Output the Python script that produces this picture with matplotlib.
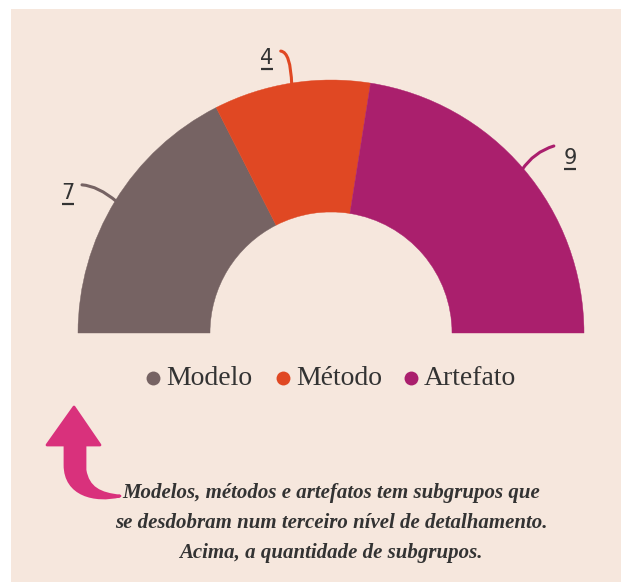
import matplotlib.pyplot as plt
import numpy as np
from matplotlib.patches import Wedge, Rectangle, PathPatch
from matplotlib.path import Path

W = 621
H = 582

categories = ["Modelo", "Método", "Artefato"]
values = [7, 4, 9]
colors = ["#766363", "#e04823", "#aa1f6d"]

note_lines = [
    "Modelos, métodos e artefatos tem subgrupos que",
    "se desdobram num terceiro nível de detalhamento.",
    "Acima, a quantidade de subgrupos.",
]

bg = "#f6e7dd"
ink = "#333333"
arrow_color = "#d9317c"


def py(y):
    # pixel row (top-down) -> axes y (bottom-up)
    return H - y


fig = plt.figure(figsize=(W / 100, H / 100), dpi=100)
fig.patch.set_facecolor("white")
ax = fig.add_axes([0, 0, 1, 1])
ax.set_xlim(0, W)
ax.set_ylim(0, H)
ax.axis("off")

# peach panel
ax.add_patch(Rectangle((11, 0), W - 11, py(9), facecolor=bg, edgecolor="none"))

# -------------------------
# half donut
# -------------------------
cx, cy = 331, py(333)
r_out = 253
r_in = 121
total = sum(values)

label_off = [(-49, -9), (-25, -27), (48, -12)]
end_off = [(-35, -17), (-11, -34), (32, -24)]
ctrl_off = [(-19, -16), (-1, -33), (12, -18)]

start = 180.0
for i, v in enumerate(values):
    span = v / total * 180.0
    theta2 = start
    theta1 = start - span
    ax.add_patch(Wedge((cx, cy), r_out, theta1, theta2, width=r_out - r_in,
                       facecolor=colors[i], edgecolor=colors[i], lw=0.3))
    mid = np.deg2rad((theta1 + theta2) / 2)
    ax_x = cx + (r_out - 2) * np.cos(mid)
    ax_y = cy + (r_out - 2) * np.sin(mid)
    ex, ey = ax_x + end_off[i][0], ax_y - end_off[i][1]
    kx, ky = ax_x + ctrl_off[i][0], ax_y - ctrl_off[i][1]
    leader = Path([(ax_x, ax_y), (kx, ky), (ex, ey)],
                  [Path.MOVETO, Path.CURVE3, Path.CURVE3])
    ax.add_patch(PathPatch(leader, facecolor="none", edgecolor=colors[i],
                           lw=2.2, capstyle="round"))
    lx, ly = ax_x + label_off[i][0], ax_y - label_off[i][1]
    ax.text(lx, ly, str(v), ha="center", va="center", fontsize=15,
            color=ink, family="DejaVu Sans")
    ax.plot([lx - 6, lx + 6], [ly - 11, ly - 11], color=ink, lw=1.6,
            solid_capstyle="butt")
    start = theta1

# -------------------------
# legend
# -------------------------
dot_x = [153, 283, 411]
for i, name in enumerate(categories):
    ax.plot(dot_x[i], py(378), "o", ms=10, color=colors[i], mec="none")
    ax.text(dot_x[i] + 13, py(385), name, ha="left", va="baseline",
            fontsize=20, color=ink, family="Liberation Serif")

# -------------------------
# curved arrow
# -------------------------
pts = [
    (74, 407), (100, 445), (85, 445),
    (85, 470), (88, 488), (100, 494), (120, 496),
    (95, 502), (65, 495), (65, 465),
    (65, 445), (47, 445), (74, 407),
]
codes = [
    Path.MOVETO, Path.LINETO, Path.LINETO,
    Path.LINETO, Path.CURVE4, Path.CURVE4, Path.CURVE4,
    Path.CURVE4, Path.CURVE4, Path.CURVE4,
    Path.LINETO, Path.LINETO, Path.CLOSEPOLY,
]
arrow = Path([(x, py(y)) for x, y in pts], codes)
ax.add_patch(PathPatch(arrow, facecolor=arrow_color, edgecolor=arrow_color,
                       lw=2, joinstyle="round"))

# -------------------------
# note
# -------------------------
for i, line in enumerate(note_lines):
    ax.text(331, py(498 + 30 * i), line, ha="center", va="baseline",
            fontsize=15, color=ink, family="Liberation Serif",
            style="italic", weight="bold")

fig.savefig("out.png", dpi=100, facecolor=fig.get_facecolor())
